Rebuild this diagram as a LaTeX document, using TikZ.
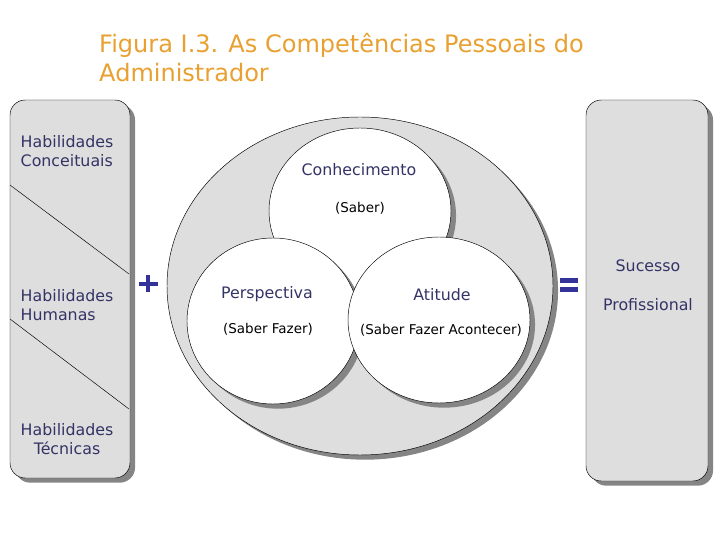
\documentclass[tikz,border=0pt]{standalone}
\usepackage{fontspec}
\setmainfont{DejaVu Sans}

\definecolor{boxgray}{HTML}{DEDEDE}
\definecolor{shadowgray}{HTML}{858585}
\definecolor{navy}{HTML}{333366}
\definecolor{opblue}{HTML}{333399}
\definecolor{titleorange}{HTML}{E8A030}

\tikzset{
  panel/.style={draw=black, fill=boxgray, rounded corners=13pt},
  disc/.style={draw=black, fill=white},
  shadowfill/.style={fill=shadowgray, xshift=4.3pt, yshift=-4pt},
  headtxt/.style={text=titleorange, font=\fontsize{20.5}{24.7}\selectfont, inner sep=0pt, anchor=base west},
  txt/.style={text=navy, font=\fontsize{13.5}{16.5}\selectfont, inner sep=0pt},
  subtxt/.style={text=black, font=\fontsize{11.5}{14}\selectfont, inner sep=0pt},
  opline/.style={draw=opblue, line width=4pt},
}

\begin{document}
\begin{tikzpicture}[x=0.03cm, y=-0.03cm]
  \useasboundingbox (0,0) rectangle (720,540);

  % title
  \node[headtxt] (title) at (99,53) {Figura I.3. As Competências Pessoais do};
  \node[headtxt] (title2) at (99,82) {Administrador};

  % left panel
  \fill[shadowfill, rounded corners=13pt] (10,100) rectangle (130,478);
  \draw[panel] (10,100) rectangle (130,478);
  \draw (10,185) -- (129,274);
  \draw (10,319) -- (129,409);

  \node[txt, align=left] (concept) at (67,151) {Habilidades\\Conceituais};
  \node[txt, align=left] (human) at (67,305) {Habilidades\\Humanas};
  \node[txt, align=center] (tech) at (67,439) {Habilidades\\Técnicas};

  % plus
  \draw[opline] (138.5,284) -- (157.5,284);
  \draw[opline] (148,275.5) -- (148,292.5);

  % big ellipse
  \fill[shadowfill] (360,286) ellipse [x radius=193, y radius=169];
  \draw[fill=boxgray] (360,286) ellipse [x radius=193, y radius=169];

  % the three circles
  \fill[shadowfill] (360,211) ellipse [x radius=91, y radius=83];
  \draw[disc] (360,211) ellipse [x radius=91, y radius=83];
  \fill[shadowfill] (273,321) ellipse [x radius=86, y radius=83];
  \draw[disc] (273,321) ellipse [x radius=86, y radius=83];
  \fill[shadowfill] (439,320) ellipse [x radius=91, y radius=83];
  \draw[disc] (439,320) ellipse [x radius=91, y radius=83];

  \node[txt] (know) at (359,170) {Conhecimento};
  \node[subtxt] (knowsub) at (360,208) {(Saber)};
  \node[txt] (persp) at (267,294) {Perspectiva};
  \node[subtxt] (perspsub) at (268,329) {(Saber Fazer)};
  \node[txt] (attit) at (442,295) {Atitude};
  \node[subtxt] (attitsub) at (441,330) {(Saber Fazer Acontecer)};

  % equals
  \draw[opline] (560,280.5) -- (578,280.5);
  \draw[opline] (560,289.5) -- (578,289.5);

  % right panel
  \fill[shadowfill, rounded corners=13pt] (586,100) rectangle (708,481);
  \draw[panel] (586,100) rectangle (708,481);
  \node[txt] (success) at (648,266) {Sucesso};
  \node[txt] (prof) at (648,305) {Profissional};
\end{tikzpicture}
\end{document}
